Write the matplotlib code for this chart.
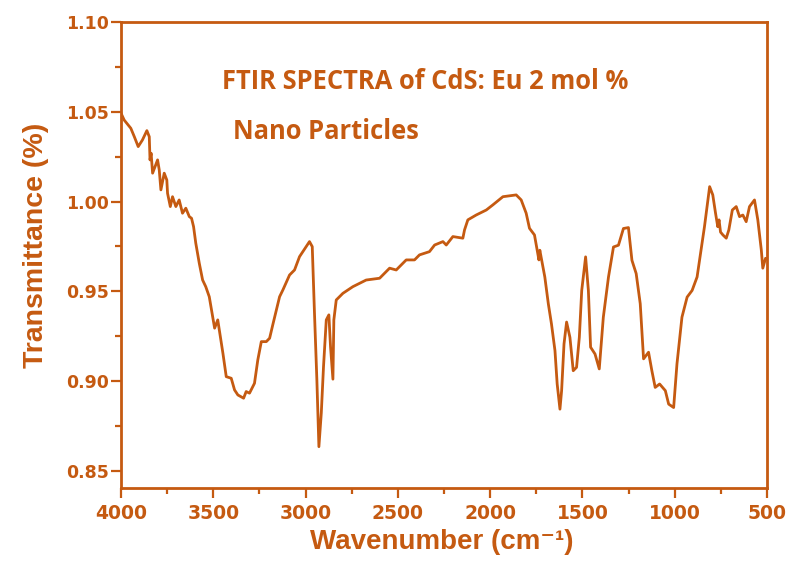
import numpy as np
import matplotlib
matplotlib.use("Agg")
import matplotlib.pyplot as plt
from matplotlib.ticker import MultipleLocator

# colour used for everything in the reference
brown = '#C55A11'

# FTIR spectrum (wavenumber in cm-1, transmittance)
wavenumber = [4000, 3983, 3947, 3928, 3907, 3884, 3860, 3847, 3843, 3837, 3829,
              3802, 3793, 3784, 3766, 3752, 3748, 3733, 3721, 3703, 3685, 3667,
              3649, 3630, 3618, 3607, 3595, 3576, 3558, 3541, 3522, 3493, 3476,
              3448, 3430, 3403, 3385, 3367, 3336, 3322, 3304, 3277, 3259, 3240,
              3213, 3195, 3178, 3141, 3123, 3087, 3060, 3033, 2979, 2964, 2952,
              2939, 2928, 2915, 2903, 2888, 2874, 2865, 2852, 2847, 2834, 2798,
              2744, 2672, 2599, 2545, 2509, 2455, 2410, 2383, 2329, 2301, 2256,
              2238, 2202, 2148, 2139, 2121, 2076, 2021, 1986, 1931, 1859, 1832,
              1805, 1787, 1760, 1736, 1731, 1704, 1685, 1668, 1649, 1637, 1622,
              1613, 1600, 1586, 1568, 1550, 1532, 1517, 1504, 1483, 1468, 1456,
              1432, 1409, 1387, 1359, 1332, 1305, 1278, 1251, 1232, 1209, 1187,
              1169, 1142, 1124, 1106, 1082, 1051, 1033, 1006, 988, 961, 933, 906,
              879, 839, 811, 794, 779, 767, 760, 752, 739, 721, 707, 688, 667,
              649, 631, 613, 595, 568, 550, 531, 523, 508, 500]
transmittance = [1.0492, 1.0454, 1.0408, 1.0361, 1.0306, 1.0343, 1.0395, 1.0361,
                 1.0232, 1.0269, 1.0158, 1.0232, 1.0176, 1.0065, 1.0158, 1.0120,
                 1.0046, 0.9972, 1.0027, 0.9972, 1.0009, 0.9935, 0.9963, 0.9916,
                 0.9907, 0.9860, 0.9768, 0.9656, 0.9563, 0.9526, 0.9470, 0.9295,
                 0.9341, 0.9155, 0.9025, 0.9016, 0.8951, 0.8923, 0.8905, 0.8942,
                 0.8933, 0.8988, 0.9118, 0.9220, 0.9220, 0.9239, 0.9313, 0.9470,
                 0.9508, 0.9591, 0.9619, 0.9693, 0.9777, 0.9749, 0.9380, 0.9007,
                 0.8635, 0.8823, 0.9081, 0.9341, 0.9369, 0.9192, 0.9011, 0.9341,
                 0.9452, 0.9489, 0.9526, 0.9563, 0.9573, 0.9629, 0.9619, 0.9675,
                 0.9675, 0.9703, 0.9721, 0.9758, 0.9777, 0.9758, 0.9805, 0.9796,
                 0.9842, 0.9898, 0.9925, 0.9953, 0.9981, 1.0027, 1.0037, 1.0009,
                 0.9935, 0.9851, 0.9814, 0.9675, 0.9729, 0.9580, 0.9431, 0.9319,
                 0.9170, 0.8984, 0.8844, 0.8947, 0.9207, 0.9329, 0.9244, 0.9058,
                 0.9077, 0.9244, 0.9505, 0.9692, 0.9505, 0.9189, 0.9151, 0.9068,
                 0.9356, 0.9580, 0.9747, 0.9757, 0.9850, 0.9855, 0.9673, 0.9599,
                 0.9431, 0.9124, 0.9161, 0.9058, 0.8965, 0.8984, 0.8947, 0.8872,
                 0.8853, 0.9096, 0.9356, 0.9468, 0.9505, 0.9580, 0.9860, 1.0083,
                 1.0037, 0.9935, 0.9860, 0.9898, 0.9830, 0.9814, 0.9796, 0.9842,
                 0.9953, 0.9972, 0.9916, 0.9925, 0.9888, 0.9972, 1.0009, 0.9898,
                 0.9730, 0.9629, 0.9684, 0.9680]

title_lines = ['FTIR SPECTRA of CdS: Eu 2 mol %', 'Nano Particles']

fig = plt.figure(figsize=(7.88, 5.62), dpi=100)
ax = fig.add_axes([0.1536, 0.1317, 0.8198, 0.8292])

ax.plot(wavenumber, transmittance, color=brown, lw=2.0)

ax.set_xlim(4000, 500)
ax.set_ylim(0.8405, 1.10)
ax.xaxis.set_major_locator(MultipleLocator(500))
ax.xaxis.set_minor_locator(MultipleLocator(250))
ax.yaxis.set_major_locator(MultipleLocator(0.05))
ax.yaxis.set_minor_locator(MultipleLocator(0.025))
ax.yaxis.set_major_formatter(plt.FormatStrFormatter('%.2f'))

for s in ax.spines.values():
    s.set_color(brown)
    s.set_linewidth(2.0)
ax.tick_params(which='both', direction='out', color=brown, width=1.6,
               top=False, right=False)
ax.tick_params(which='major', length=7.5)
ax.tick_params(which='minor', length=4.5)
ax.tick_params(axis='x', pad=4, labelsize=13.5, labelcolor=brown)
ax.tick_params(axis='y', pad=1.5, labelsize=12.5, labelcolor=brown)
for lab in ax.get_xticklabels() + ax.get_yticklabels():
    lab.set_fontweight('bold')
    lab.set_family('DejaVu Sans')

ax.set_ylabel('Transmittance (%)', family='Liberation Sans', fontweight='bold',
              fontsize=20.5, color=brown)
ax.yaxis.set_label_coords(-0.112, 0.521)
ax.set_xlabel('Wavenumber (cm\u207b\u00b9)', family=['Liberation Sans', 'DejaVu Sans'],
              fontweight='bold', fontsize=20, color=brown)
ax.xaxis.set_label_coords(0.497, -0.087)

ax.text(3453, 1.0627, title_lines[0], family='Open Sans', fontweight='bold',
        fontsize=18.4, color=brown, va='baseline')
ax.text(3393, 1.0348, title_lines[1], family='Open Sans', fontweight='bold',
        fontsize=18.4, color=brown, va='baseline')

fig.savefig('out.png', dpi=100)
